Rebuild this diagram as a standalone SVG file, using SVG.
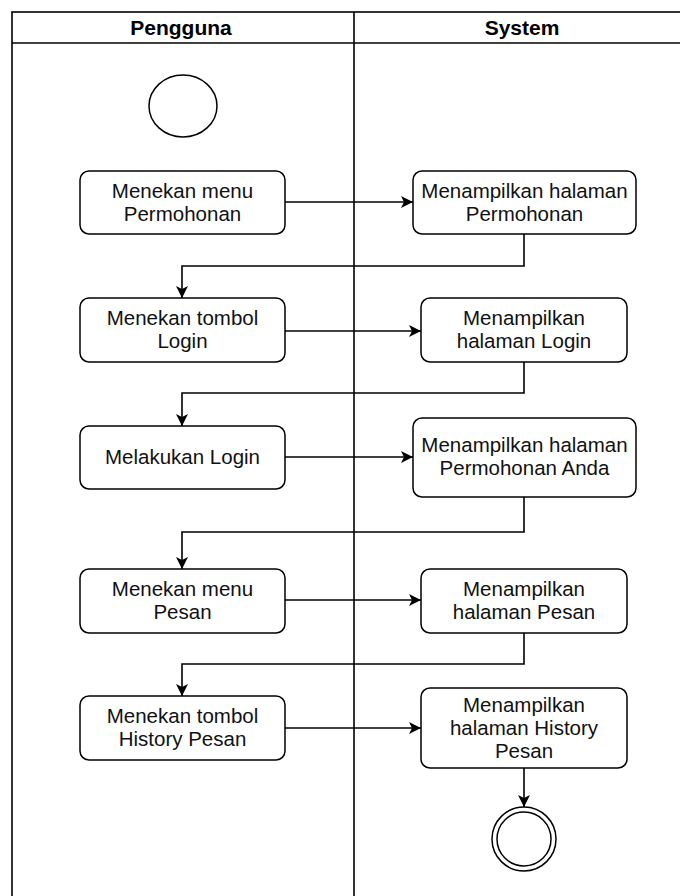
<svg xmlns="http://www.w3.org/2000/svg" width="680" height="896" viewBox="0 0 680 896">
<defs>
<style>
.lane{fill:none;stroke:#000;stroke-width:1.6}
.box{fill:#fff;stroke:#000;stroke-width:1.5}
.t{font-family:"Liberation Sans",Arial,sans-serif;font-size:20.5px;fill:#111;text-anchor:middle}
.h{font-family:"Liberation Sans",Arial,sans-serif;font-size:21px;font-weight:bold;fill:#000;text-anchor:middle}
.c{fill:none;stroke:#000;stroke-width:1.6}
</style>
<marker id="arr" markerUnits="userSpaceOnUse" markerWidth="14" markerHeight="14" refX="12" refY="6" orient="auto">
<path d="M0,0 L12,6 L0,12 L3,6 z" fill="#000"/>
</marker>
</defs>
<rect width="680" height="896" fill="#fff"/>
<g id="swimlanes">
<rect class="lane" x="12" y="12" width="720" height="920"/>
<line class="lane" x1="12" y1="43" x2="690" y2="43"/>
<line class="lane" x1="354" y1="12" x2="354" y2="900"/>
<text class="h" x="181" y="35">Pengguna</text>
<text class="h" x="522" y="35">System</text>
</g>
<g id="start"><ellipse cx="183" cy="106" rx="34" ry="31" fill="#fff" stroke="#000" stroke-width="1.5"/></g>
<g id="a1"><rect class="box" x="80" y="171" width="205" height="63" rx="9"/><text class="t" x="182.5" y="198">Menekan menu</text><text class="t" x="182.5" y="221">Permohonan</text></g>
<g id="s1"><rect class="box" x="413" y="171" width="223" height="63" rx="9"/><text class="t" x="524.5" y="198">Menampilkan halaman</text><text class="t" x="524.5" y="221">Permohonan</text></g>
<g id="a2"><rect class="box" x="80" y="298" width="205" height="64" rx="9"/><text class="t" x="182.5" y="325">Menekan tombol</text><text class="t" x="182.5" y="348">Login</text></g>
<g id="s2"><rect class="box" x="421" y="298" width="206" height="64" rx="9"/><text class="t" x="524" y="325">Menampilkan</text><text class="t" x="524" y="348">halaman Login</text></g>
<g id="a3"><rect class="box" x="80" y="426" width="205" height="63" rx="9"/><text class="t" x="182.5" y="464">Melakukan Login</text></g>
<g id="s3"><rect class="box" x="413" y="418" width="223" height="79" rx="9"/><text class="t" x="524.5" y="452">Menampilkan halaman</text><text class="t" x="524.5" y="475">Permohonan Anda</text></g>
<g id="a4"><rect class="box" x="80" y="569" width="205" height="64" rx="9"/><text class="t" x="182.5" y="596">Menekan menu</text><text class="t" x="182.5" y="619">Pesan</text></g>
<g id="s4"><rect class="box" x="421" y="569" width="206" height="64" rx="9"/><text class="t" x="524" y="596">Menampilkan</text><text class="t" x="524" y="619">halaman Pesan</text></g>
<g id="a5"><rect class="box" x="80" y="696" width="205" height="64" rx="9"/><text class="t" x="182.5" y="723">Menekan tombol</text><text class="t" x="182.5" y="746">History Pesan</text></g>
<g id="s5"><rect class="box" x="421" y="688" width="206" height="80" rx="9"/><text class="t" x="524" y="712">Menampilkan</text><text class="t" x="524" y="735">halaman History</text><text class="t" x="524" y="758">Pesan</text></g>
<g id="end"><circle cx="524" cy="839" r="32" fill="#fff" stroke="#000" stroke-width="1.5"/><circle cx="524" cy="839" r="27" fill="none" stroke="#000" stroke-width="1.5"/></g>
<g id="connectors">
<path class="c" d="M285,202 H413" marker-end="url(#arr)"/>
<path class="c" d="M524,234 V266 H182 V298" marker-end="url(#arr)"/>
<path class="c" d="M285,331 H421" marker-end="url(#arr)"/>
<path class="c" d="M524,362 V393 H182 V426" marker-end="url(#arr)"/>
<path class="c" d="M285,457 H413" marker-end="url(#arr)"/>
<path class="c" d="M524,497 V532 H182 V569" marker-end="url(#arr)"/>
<path class="c" d="M285,600 H421" marker-end="url(#arr)"/>
<path class="c" d="M524,633 V664 H182 V696" marker-end="url(#arr)"/>
<path class="c" d="M285,728 H421" marker-end="url(#arr)"/>
<path class="c" d="M524,768 V807" marker-end="url(#arr)"/>
</g>
</svg>
